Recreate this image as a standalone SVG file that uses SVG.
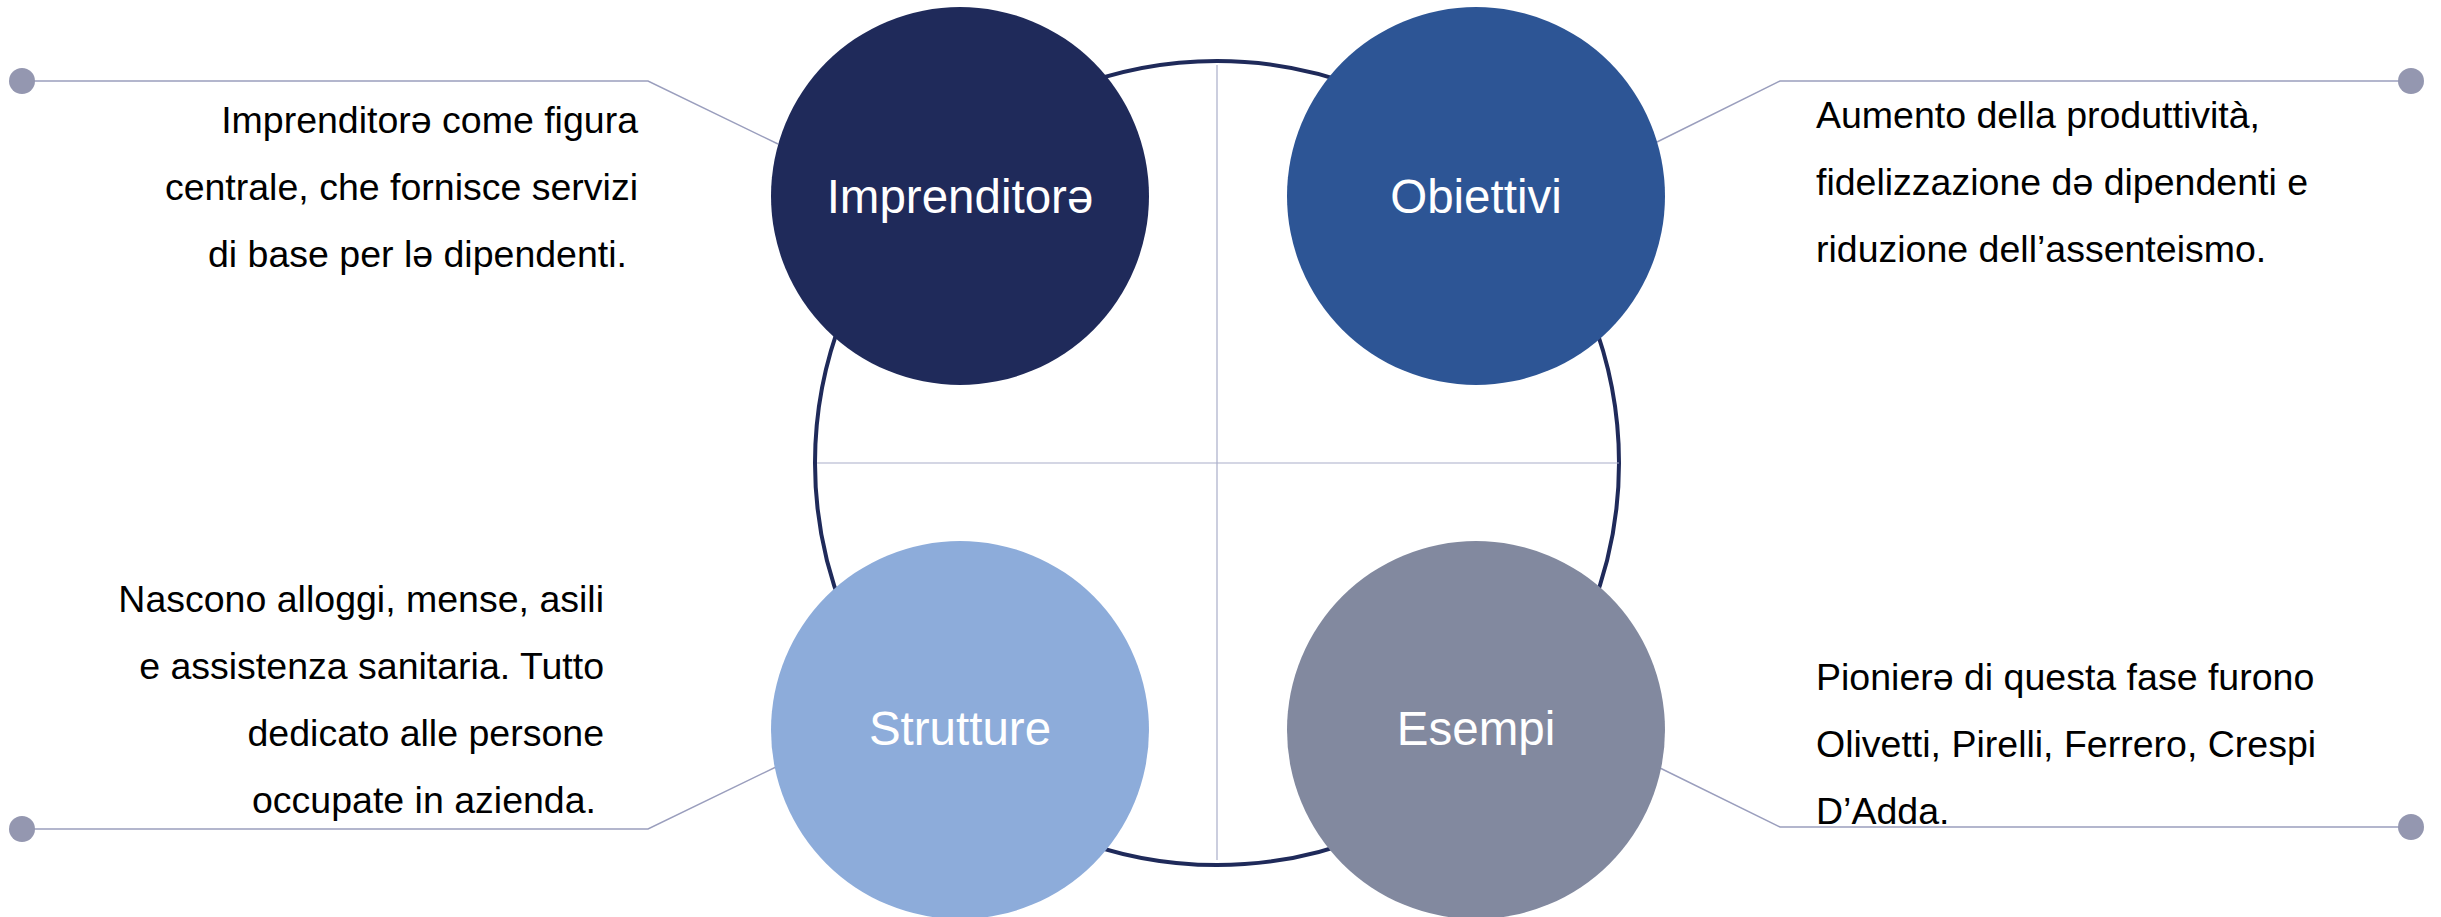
<svg xmlns="http://www.w3.org/2000/svg" width="2441" height="917" viewBox="0 0 2441 917">
<style>
.desc{font-family:"Liberation Sans",Arial,sans-serif;font-size:37.5px;fill:#000}
.lbl{font-family:"Liberation Sans",Arial,sans-serif;font-size:47.5px;fill:#fff;text-anchor:middle}
.conn{fill:none;stroke:#9A9EBD;stroke-width:1.5}
.dot{fill:#9497B0}
.cross{stroke:#A9ADC9;stroke-width:1.2}
</style>
<rect width="2441" height="917" fill="#fff"/>
<g id="ring">
<circle cx="1217" cy="463" r="402" fill="none" stroke="#1F2A5A" stroke-width="4"/>
<line class="cross" x1="1217" y1="65" x2="1217" y2="860"/>
<line class="cross" x1="817" y1="463" x2="1619" y2="463"/>
</g>
<g id="connectors">
<polyline class="conn" points="22,81 648,81 778,144"/>
<polyline class="conn" points="2411,81 1780,81 1657,142"/>
<polyline class="conn" points="22,829 648,829 778,766"/>
<polyline class="conn" points="2411,827 1780,827 1660,768"/>
<circle class="dot" cx="22" cy="81" r="13"/>
<circle class="dot" cx="2411" cy="81" r="13"/>
<circle class="dot" cx="22" cy="829" r="13"/>
<circle class="dot" cx="2411" cy="827" r="13"/>
</g>
<g id="node-imprenditore">
<circle cx="960" cy="196" r="189" fill="#1F2A5A"/>
<text class="lbl" x="960" y="213">Imprenditorə</text>
</g>
<g id="node-obiettivi">
<circle cx="1476" cy="196" r="189" fill="#2D5595"/>
<text class="lbl" x="1476" y="213">Obiettivi</text>
</g>
<g id="node-strutture">
<circle cx="960" cy="730" r="189" fill="#8DACDA"/>
<text class="lbl" x="960" y="745">Strutture</text>
</g>
<g id="node-esempi">
<circle cx="1476" cy="730" r="189" fill="#82899F"/>
<text class="lbl" x="1476" y="745">Esempi</text>
</g>
<g id="text-imprenditore" class="desc" text-anchor="end">
<text x="638" y="133">Imprenditorə come figura</text>
<text x="638" y="200">centrale, che fornisce servizi</text>
<text x="627" y="267">di base per lə dipendenti.</text>
</g>
<g id="text-obiettivi" class="desc">
<text x="1816" y="128">Aumento della produttività,</text>
<text x="1816" y="195">fidelizzazione də dipendenti e</text>
<text x="1816" y="262">riduzione dell’assenteismo.</text>
</g>
<g id="text-strutture" class="desc" text-anchor="end">
<text x="604" y="612">Nascono alloggi, mense, asili</text>
<text x="604" y="679">e assistenza sanitaria. Tutto</text>
<text x="604" y="746">dedicato alle persone</text>
<text x="596" y="813">occupate in azienda.</text>
</g>
<g id="text-esempi" class="desc">
<text x="1816" y="690">Pionierə di questa fase furono</text>
<text x="1816" y="757">Olivetti, Pirelli, Ferrero, Crespi</text>
<text x="1816" y="824">D’Adda.</text>
</g>
</svg>
